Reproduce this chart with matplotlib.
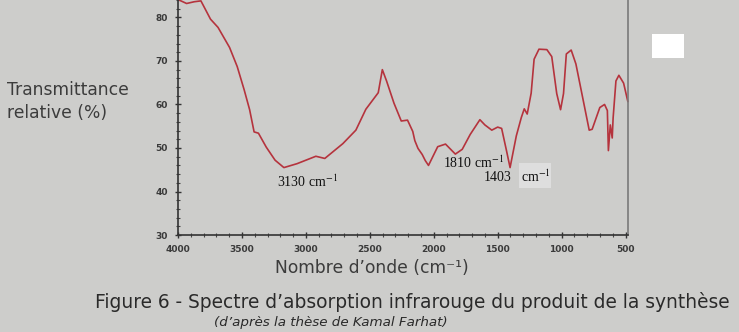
import numpy as np
import matplotlib
matplotlib.use("Agg")
import matplotlib.pyplot as plt
from matplotlib.patches import Rectangle
from matplotlib.ticker import MultipleLocator

plt.rcParams['mathtext.fontset'] = 'stix'

# IR spectrum (wavenumber in cm-1, relative transmittance in %)
wavenumber = [3985, 3933, 3873, 3821, 3746, 3687, 3597, 3537, 3483, 3440,
              3405, 3371, 3310, 3241, 3172, 3069, 2922, 2852, 2711, 2609,
              2531, 2434, 2402, 2369, 2311, 2254, 2205, 2164, 2148, 2123,
              2090, 2066, 2041, 1969, 1908, 1831, 1777, 1715, 1639, 1600,
              1546, 1500, 1469, 1431, 1403, 1354, 1315, 1292, 1269, 1238,
              1215, 1177, 1115, 1077, 1038, 1008, 985, 963, 925, 888,
              836, 784, 761, 701, 664, 642, 634, 619, 604, 597,
              575, 552, 515, 482]
transmittance = [83.9, 83.2, 83.6, 83.8, 79.6, 77.7, 73.1, 68.7, 63.4, 58.8,
                 53.7, 53.4, 50.2, 47.2, 45.5, 46.4, 48.1, 47.6, 51.0, 54.1,
                 58.9, 62.7, 68.0, 65.4, 60.3, 56.2, 56.4, 53.8, 51.7, 49.9,
                 48.5, 47.1, 46.0, 50.3, 50.9, 48.6, 49.7, 53.1, 56.5, 55.3,
                 54.1, 54.8, 54.5, 49.4, 45.5, 52.8, 57.0, 59.0, 57.8, 62.6,
                 70.4, 72.7, 72.6, 71.0, 62.5, 58.8, 62.5, 71.6, 72.5, 69.3,
                 61.7, 54.1, 54.3, 59.3, 60.0, 58.6, 49.4, 55.3, 52.3, 56.9,
                 65.4, 66.7, 64.9, 60.7]

x_ticks = [4000, 3500, 3000, 2500, 2000, 1500, 1000, 500]
y_ticks = [30, 40, 50, 60, 70, 80]

BG = '#cdcdcb'
fig = plt.figure(figsize=(7.39, 3.32), dpi=100, facecolor=BG)
ax = fig.add_axes([0.2409, 0.292, 0.609, 0.708], facecolor=BG)

ax.plot(wavenumber, transmittance, color='#b5333d', linewidth=1.2, clip_on=False)
ax.set_xlim(4000, 480)
ax.set_ylim(30, 84)

ax.set_xticks(x_ticks)
ax.set_yticks(y_ticks)
ax.xaxis.set_minor_locator(MultipleLocator(100))
ax.yaxis.set_minor_locator(MultipleLocator(2))
ax.tick_params(axis='both', which='major', direction='inout', length=5, width=1,
               colors='#333333', labelsize=6.5, pad=5)
ax.tick_params(axis='both', which='minor', direction='inout', length=3, width=0.8,
               colors='#444444')
for lab in ax.get_xticklabels() + ax.get_yticklabels():
    lab.set_fontweight('bold')
    lab.set_color('#3a3a3a')

ax.spines['top'].set_visible(False)
ax.spines['left'].set_color('#333333')
ax.spines['bottom'].set_color('#333333')
ax.spines['left'].set_linewidth(1.2)
ax.spines['bottom'].set_linewidth(1.2)
ax.spines['right'].set_color('#7a7a7a')
ax.spines['right'].set_linewidth(1.2)

# axis labels
fig.text(0.009, 0.729, "Transmittance", fontsize=12.3, color='#3c3c3c', va='center', ha='left')
fig.text(0.009, 0.660, "relative (%)", fontsize=12.3, color='#3c3c3c', va='center', ha='left')
fig.text(0.503, 0.193, "Nombre d\u2019onde (cm\u207b\u00b9)", fontsize=12.3, color='#3c3c3c',
         va='center', ha='center')

# caption
fig.text(0.5575, 0.090, "Figure 6 - Spectre d\u2019absorption infrarouge du produit de la synth\u00e8se",
         fontsize=13.4, color='#2a2a2a', va='center', ha='center')
fig.text(0.447, 0.030, "(d\u2019apr\u00e8s la th\u00e8se de Kamal Farhat)", fontsize=9.7,
         style='italic', color='#2a2a2a', va='center', ha='center')

# peak annotations
serif = ['Liberation Serif', 'DejaVu Serif']
fig.text(0.3748, 0.452, r"3130 cm$^{-1}$", fontsize=10, family=serif, color='#111111', va='center')
fig.text(0.5995, 0.509, r"1810 cm$^{-1}$", fontsize=10, family=serif, color='#111111', va='center')
fig.text(0.655, 0.464, "1403", fontsize=10, family=serif, color='#111111', va='center')
fig.patches.append(Rectangle((0.7023, 0.4337), 0.0433, 0.0753, transform=fig.transFigure,
                             facecolor='#dedede', edgecolor='none'))
fig.text(0.7050, 0.468, r"cm$^{-1}$", fontsize=10, family=serif, color='#111111', va='center')

# white patch on the right
fig.patches.append(Rectangle((0.8823, 0.8253), 0.0433, 0.0723, transform=fig.transFigure,
                             facecolor='white', edgecolor='none'))

fig.savefig("out.png", dpi=100, facecolor=BG)
